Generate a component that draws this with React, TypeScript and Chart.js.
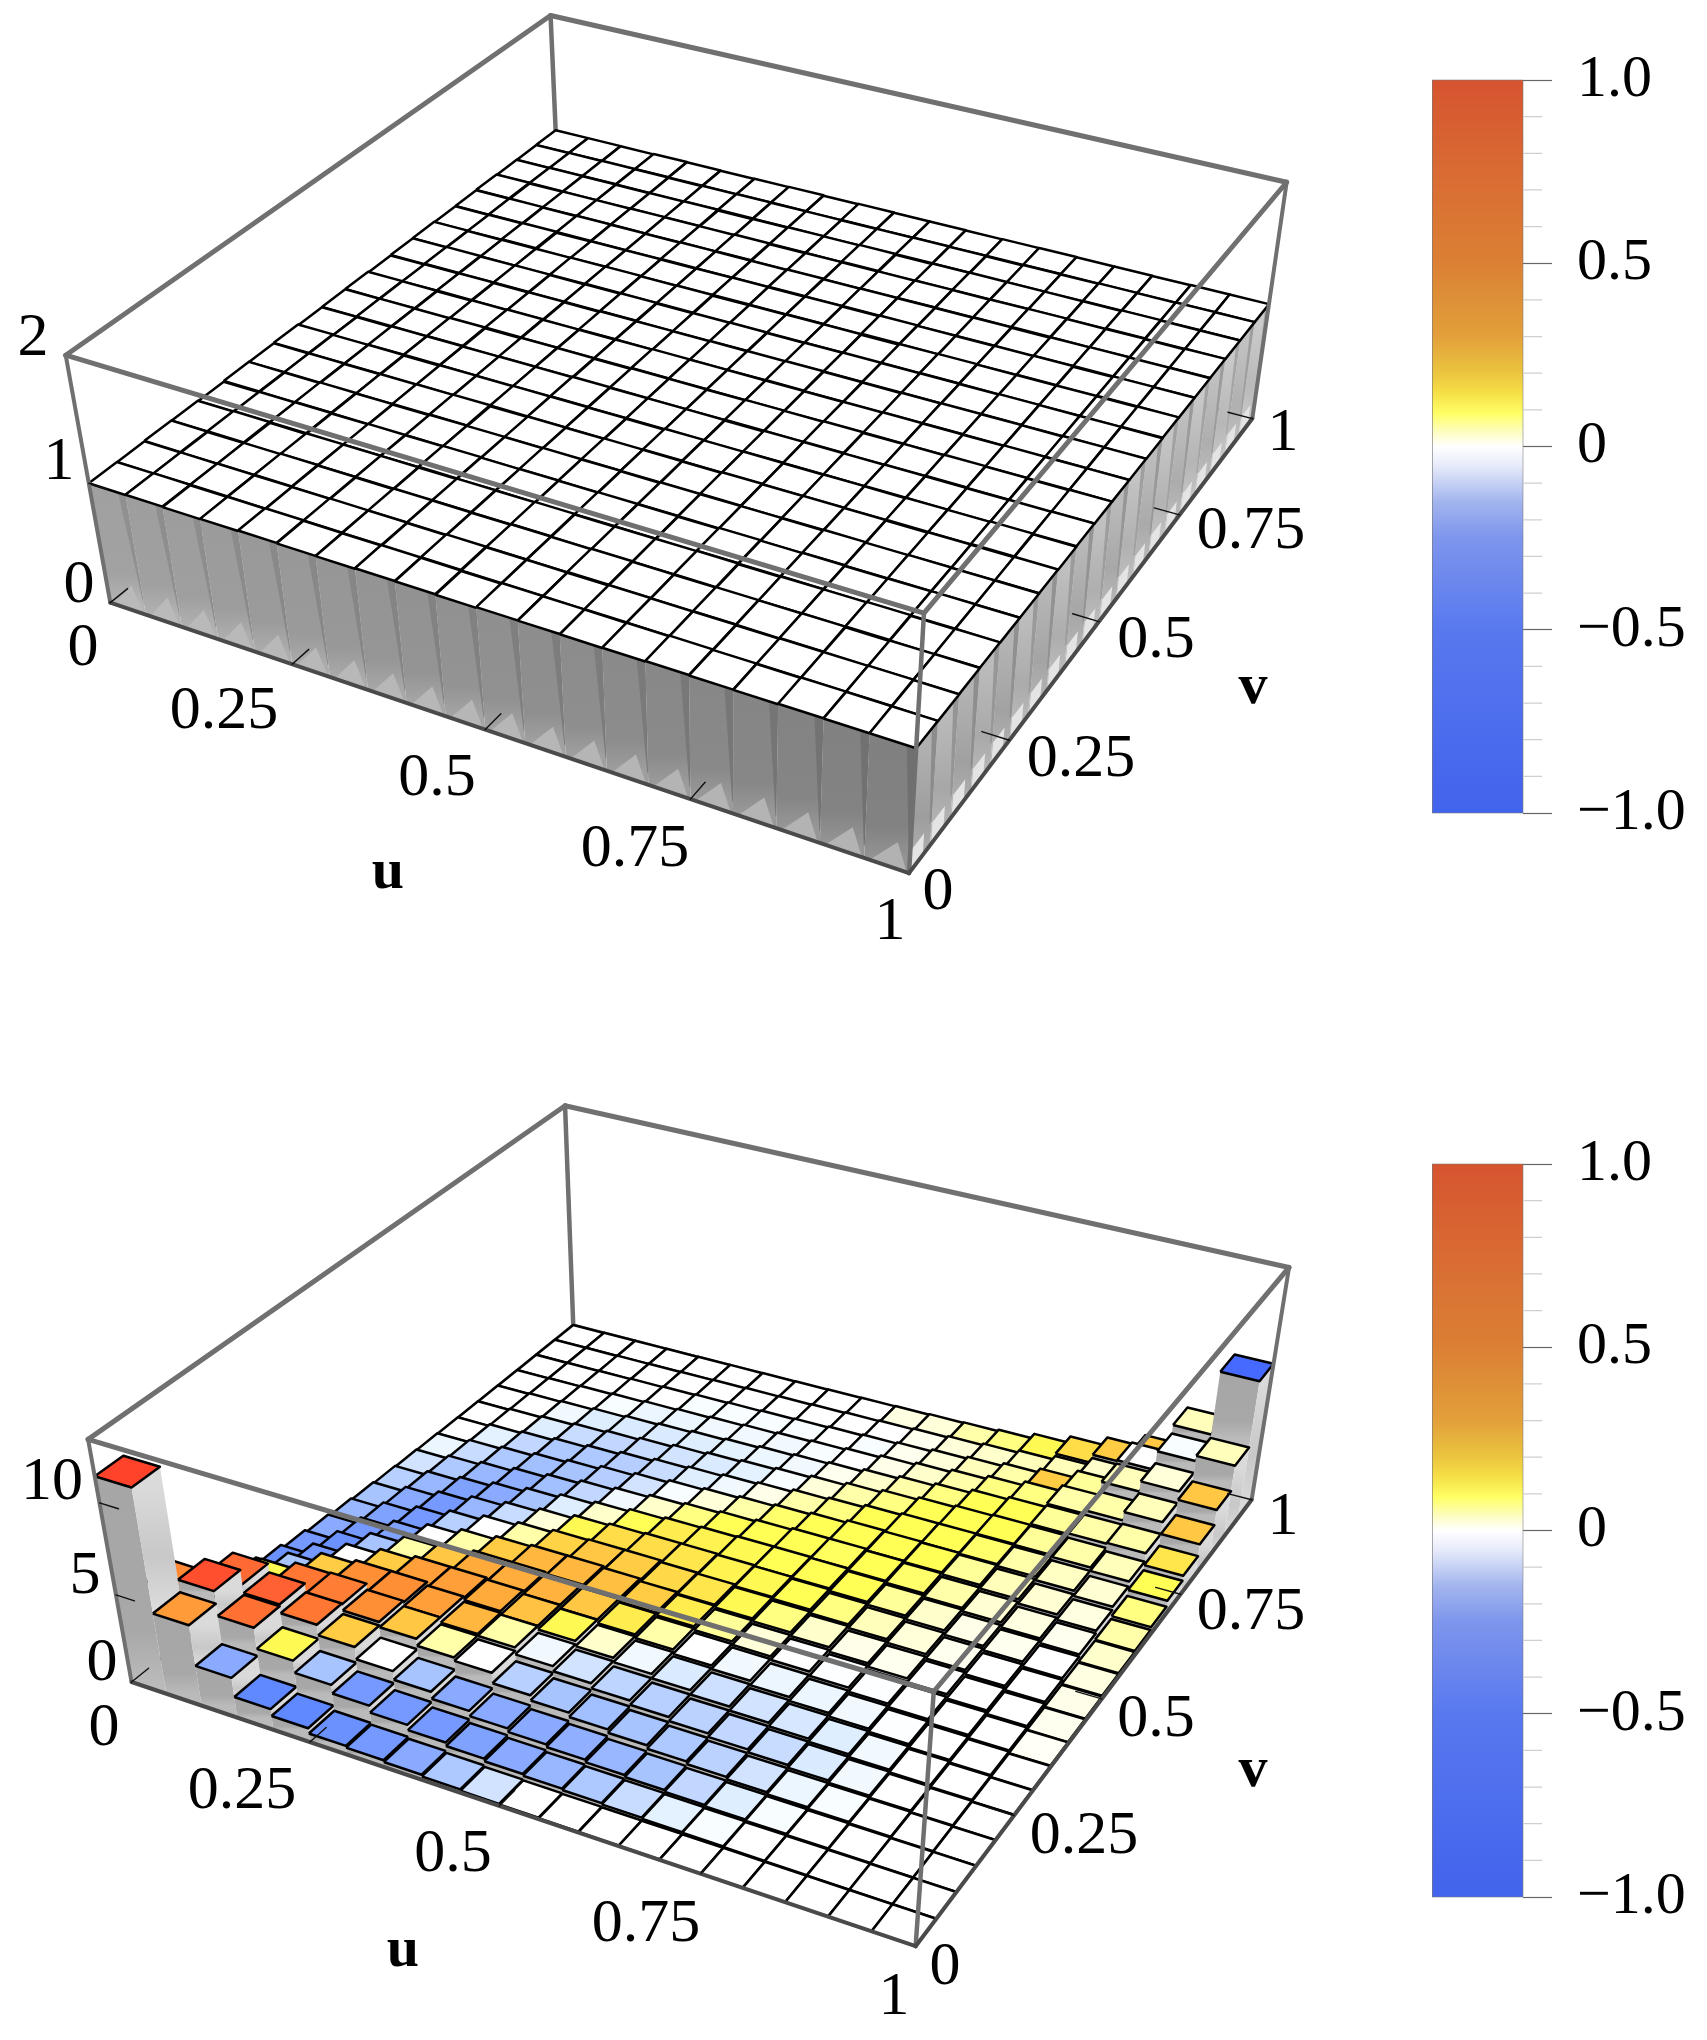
import React, { useEffect, useRef } from "react";
import { Chart, registerables } from "chart.js";

Chart.register(...registerables);

const CELL_COUNT = 20;

// Top panel: heights of the 20 x 20 bars, indexed [u][v]
const topHeights = [
  [1.000,0.998,1.002,1.000,0.996,1.002,1.000,1.004,0.998,1.000,1.002,0.996,1.000,1.002,0.998,1.000,1.004,1.000,0.998,1.000],
  [1.002,1.000,0.998,1.004,1.000,0.998,1.002,1.000,0.996,1.002,1.000,1.000,1.004,0.998,1.000,1.002,0.998,1.002,1.000,1.000],
  [0.998,1.002,1.000,0.996,1.002,1.004,0.998,1.000,1.002,1.000,0.996,1.002,1.000,1.000,1.004,0.998,1.000,1.000,1.002,0.998],
  [1.000,1.000,1.004,1.002,0.998,1.000,1.000,0.996,1.002,1.004,1.000,0.998,1.002,1.000,0.996,1.002,1.000,0.998,1.000,1.002],
  [1.004,0.998,1.000,1.000,1.002,0.996,1.002,1.000,1.000,0.998,1.004,1.000,0.998,1.002,1.000,1.000,1.002,1.000,0.996,1.000],
  [1.000,1.002,0.996,1.000,1.000,1.002,1.004,0.998,1.000,1.002,1.000,0.996,1.000,1.004,1.000,0.998,1.000,1.002,1.000,0.998],
  [0.998,1.000,1.002,0.998,1.004,1.000,0.996,1.002,1.000,1.000,0.998,1.002,1.004,1.000,0.998,1.002,1.000,0.996,1.002,1.000],
  [1.002,0.996,1.000,1.002,1.000,0.998,1.000,1.002,1.004,0.996,1.000,1.000,0.998,1.002,1.000,1.000,1.004,0.998,1.000,1.002],
  [1.000,1.004,0.998,1.000,1.000,1.002,0.998,1.000,1.000,1.002,1.004,0.998,1.000,0.996,1.002,1.000,0.998,1.002,1.000,0.998],
  [0.996,1.000,1.002,1.004,0.998,1.000,1.002,0.996,1.000,1.000,1.002,1.000,1.002,0.998,1.000,1.004,1.000,1.000,0.998,1.002],
  [1.002,1.000,1.000,0.998,1.002,0.996,1.000,1.004,1.000,0.998,1.000,1.002,0.996,1.000,1.002,1.000,0.998,1.004,1.000,1.000],
  [1.000,0.998,1.004,1.000,1.000,1.002,0.998,1.000,0.996,1.002,1.000,1.004,1.000,1.000,0.998,1.002,1.000,0.996,1.002,1.000],
  [0.998,1.002,1.000,1.000,0.996,1.000,1.004,1.000,1.002,1.000,0.998,1.000,1.002,0.996,1.004,1.000,1.002,1.000,1.000,0.998],
  [1.000,1.000,0.998,1.002,1.004,1.000,1.000,0.998,1.000,1.004,1.000,0.996,1.000,1.002,1.000,0.998,1.000,1.002,0.996,1.000],
  [1.004,1.000,1.002,0.996,1.000,0.998,1.002,1.000,1.000,0.998,1.002,1.000,1.000,1.004,0.998,1.000,1.002,1.000,1.000,1.002],
  [1.000,0.996,1.000,1.000,1.002,1.004,1.000,0.998,1.002,1.000,1.000,1.002,0.998,1.000,1.000,0.996,1.004,1.000,0.998,1.000],
  [0.998,1.000,1.002,1.000,0.998,1.000,0.996,1.002,1.000,1.004,0.998,1.000,1.002,1.000,1.002,1.000,1.000,0.998,1.002,1.000],
  [1.002,1.000,0.996,1.004,1.000,1.002,1.000,1.000,0.998,1.000,1.002,0.998,1.000,1.000,0.996,1.002,1.000,1.004,1.000,0.998],
  [1.000,1.002,1.000,0.998,1.002,1.000,0.998,1.004,1.000,0.996,1.000,1.002,1.000,0.998,1.002,1.000,0.996,1.000,1.002,1.000],
  [1.000,0.998,1.000,1.002,1.000,1.000,1.002,0.998,1.002,1.000,1.000,1.000,0.998,1.002,1.000,1.000,1.002,1.000,1.000,1.000],
];

// Bottom panel: heights of the bars, indexed [u][v]
const bottomHeights = [
  [11.4,4.6,3.0,1.9,1.3,0.9,0.65,0.48,0.35,0.25,0.18,0.13,0.09,0.06,0.04,0.03,0.02,0.01,0.01,0.0],
  [4.6,5.3,4.5,3.0,2.2,1.6,1.2,0.9,0.7,0.55,0.42,0.32,0.24,0.17,0.12,0.08,0.05,0.03,0.01,0.01],
  [2.3,3.9,4.0,3.4,2.8,2.2,1.7,1.3,1.05,0.85,0.65,0.5,0.38,0.28,0.2,0.14,0.09,0.05,0.03,0.01],
  [1.2,2.7,3.5,3.45,3.0,2.5,2.1,1.7,1.4,1.15,0.9,0.7,0.55,0.42,0.3,0.22,0.14,0.08,0.04,0.02],
  [0.8,2.0,2.9,3.1,3.0,2.7,2.3,2.0,1.7,1.4,1.15,0.9,0.7,0.55,0.4,0.3,0.2,0.12,0.06,0.03],
  [0.5,1.5,2.2,2.8,2.8,2.7,2.5,2.2,1.9,1.6,1.35,1.1,0.9,0.7,0.52,0.38,0.26,0.16,0.08,0.04],
  [0.4,1.1,1.7,2.4,2.5,2.6,2.5,2.3,2.05,1.8,1.5,1.25,1.05,0.85,0.65,0.47,0.32,0.2,0.11,0.05],
  [0.3,0.8,1.3,2.2,2.4,2.4,2.4,2.3,2.1,1.9,1.65,1.4,1.2,0.95,0.75,0.55,0.38,0.24,0.13,0.06],
  [0.2,0.6,1.0,1.6,2.0,2.2,2.2,2.2,2.1,1.95,1.75,1.5,1.3,1.05,0.85,0.65,0.45,0.28,0.16,0.08],
  [0.12,0.45,0.8,1.3,1.7,1.9,2.0,2.05,2.0,1.95,1.8,1.6,1.4,1.15,0.95,0.72,0.52,0.34,0.2,0.1],
  [0.08,0.35,0.65,1.05,1.4,1.65,1.8,1.9,1.95,1.9,1.85,1.7,1.5,1.3,1.05,0.8,0.6,0.4,0.24,0.12],
  [0.05,0.27,0.5,0.85,1.15,1.4,1.55,1.7,1.8,1.85,1.85,1.8,1.6,1.4,1.2,0.95,0.72,0.48,0.3,0.16],
  [0.03,0.2,0.38,0.65,0.92,1.15,1.35,1.5,1.65,1.75,1.8,1.8,1.75,1.55,1.35,1.1,0.85,0.6,0.38,0.2],
  [0.02,0.14,0.28,0.5,0.72,0.92,1.1,1.3,1.45,1.55,1.65,1.7,1.7,1.65,1.5,1.25,1.0,0.72,0.48,0.3],
  [0.01,0.1,0.2,0.36,0.55,0.72,0.88,1.05,1.2,1.35,1.5,1.6,1.65,1.65,1.6,1.45,1.2,0.9,0.62,0.6],
  [0.01,0.06,0.14,0.25,0.4,0.54,0.68,0.82,1.0,1.15,1.3,1.4,1.55,1.6,1.65,1.6,1.45,1.15,0.85,1.0],
  [0.0,0.04,0.09,0.17,0.27,0.38,0.5,0.62,0.77,0.9,1.05,1.2,1.35,1.5,1.6,1.7,1.8,1.6,1.3,1.5],
  [0.0,0.02,0.05,0.1,0.16,0.24,0.32,0.42,0.52,0.65,0.8,0.92,1.1,1.3,1.5,1.75,2.0,2.6,2.8,2.2],
  [0.0,0.01,0.02,0.05,0.08,0.13,0.18,0.24,0.32,0.42,0.52,0.65,0.8,1.0,1.3,1.8,2.5,3.2,3.9,4.4],
  [0.0,0.0,0.01,0.02,0.03,0.05,0.07,0.09,0.11,0.14,0.18,0.22,0.28,0.45,0.8,1.1,1.8,2.7,4.2,8.0],
];

// Bottom panel: colour value of each bar's top, indexed [u][v]
const bottomColours = [
  [0.95,0.5,-0.35,-0.5,-0.5,-0.45,-0.4,-0.3,-0.25,-0.2,-0.15,-0.08,-0.03,0,0,0,0,0,0,0],
  [0.4,0.9,0.75,0.1,-0.2,-0.4,-0.45,-0.4,-0.35,-0.3,-0.25,-0.18,-0.1,-0.04,0,0,0,0,0,0],
  [-0.3,0.7,0.8,0.65,0.2,0,-0.2,-0.35,-0.4,-0.4,-0.35,-0.25,-0.18,-0.12,-0.05,-0.02,0,0,0,0],
  [-0.5,0.1,0.65,0.6,0.45,0.2,0.05,0,-0.15,-0.25,-0.3,-0.28,-0.22,-0.18,-0.1,-0.05,-0.01,0,0,0],
  [-0.5,-0.2,0.2,0.45,0.45,0.38,0.22,0.05,0,-0.1,-0.2,-0.22,-0.2,-0.18,-0.12,-0.06,-0.03,0,0,0],
  [-0.45,-0.4,0,0.22,0.38,0.38,0.33,0.2,0.05,0.02,-0.05,-0.12,-0.16,-0.16,-0.1,-0.06,-0.03,-0.01,0,0],
  [-0.4,-0.4,-0.2,0.05,0.28,0.33,0.32,0.28,0.18,0.1,0.03,-0.02,-0.08,-0.1,-0.08,-0.05,-0.02,-0.01,0,0],
  [-0.3,-0.4,-0.3,0,0.05,0.24,0.3,0.28,0.22,0.15,0.09,0.03,-0.01,-0.05,-0.06,-0.04,-0.02,-0.01,0,0],
  [-0.18,-0.35,-0.3,-0.15,-0.02,0.1,0.22,0.25,0.2,0.15,0.12,0.07,0.02,-0.02,-0.04,-0.03,-0.02,-0.01,0,0],
  [-0.08,-0.3,-0.3,-0.2,-0.08,0.03,0.12,0.2,0.16,0.13,0.11,0.09,0.05,0.01,-0.01,-0.02,-0.01,0,0,0],
  [0,-0.25,-0.28,-0.22,-0.13,-0.02,0.05,0.12,0.13,0.11,0.1,0.09,0.08,0.05,0.02,0.005,0,-0.01,0,0.015],
  [0,-0.18,-0.25,-0.2,-0.15,-0.06,0,0.06,0.1,0.1,0.09,0.09,0.09,0.07,0.05,0.03,0.01,0.005,0.005,0.02],
  [0,-0.1,-0.2,-0.18,-0.14,-0.09,-0.02,0.02,0.07,0.09,0.09,0.085,0.09,0.09,0.07,0.05,0.03,0.02,0.02,0.05],
  [0,-0.04,-0.12,-0.14,-0.12,-0.08,-0.03,0,0.03,0.07,0.09,0.09,0.09,0.09,0.09,0.07,0.05,0.04,0.03,0.07],
  [0,-0.01,-0.05,-0.08,-0.1,-0.07,-0.03,-0.005,0.01,0.04,0.06,0.08,0.09,0.09,0.09,0.09,0.07,0.05,0.04,0.1],
  [0,0,-0.01,-0.03,-0.06,-0.05,-0.02,-0.005,0.005,0.02,0.03,0.05,0.06,0.08,0.09,0.09,0.07,0.2,0.04,0.15],
  [0,0,0,-0.01,-0.02,-0.02,-0.005,0,0,0.005,0.01,0.025,0.04,0.05,0.06,0.06,0.05,0.06,0.03,0.2],
  [0,0,0,0,0,0,0,0,0,0,0.005,0.015,0.025,0.035,0.05,0.05,0.05,0.04,0,0.22],
  [0,0,0,0,0,0,0,0,0,0,0,0.005,0.015,0.025,0.04,0.05,0.04,0.02,-0.01,0.04],
  [0,0,0,0,0,0,0,0.003,0.005,0.01,0.015,0.03,0.05,0.07,0.09,0.13,0.22,0.22,0.04,-0.9],
];

const uvTickValues = [0.25, 0.5, 0.75];
const topZTicks = [1];
const bottomZTicks = [5, 10];
const colourMinorTicks = [0.9, 0.8, 0.7, 0.6, 0.4, 0.3, 0.2, 0.1, -0.1, -0.2, -0.3, -0.4, -0.6, -0.7, -0.8, -0.9];
const colourTickLabels: Record<string, string> = { "1": "1.0", "0.5": "0.5", "0": "0", "-0.5": "\u22120.5", "-1": "\u22121.0" };

// Colours of the bar tops (lit version of the scale)
const topColourStops: [number, string][] = [
  [-1, "#3f63ff"], [-0.5, "#6088ff"], [-0.3, "#8aaaff"], [-0.2, "#a8c4ff"], [-0.1, "#c8dcff"],
  [-0.04, "#e4f2ff"], [-0.01, "#f8fdff"], [0, "#ffffff"], [0.005, "#fffff0"], [0.03, "#ffffcc"],
  [0.06, "#ffff99"], [0.09, "#ffff55"], [0.14, "#ffe04a"], [0.2, "#ffcc44"], [0.3, "#ffb23e"],
  [0.45, "#ff8f35"], [0.65, "#ff7733"], [0.85, "#ff5a32"], [1, "#ff3828"],
];
// Colours of the colour bar
const barColourStops: [number, string][] = [
  [1, "#d65430"], [0.75, "#d96b33"], [0.5, "#db8034"], [0.3, "#e2a03a"], [0.2, "#ebc53f"], [0.15, "#f5dd45"],
  [0.09, "#ffff66"], [0.04, "#fdfdc0"], [0, "#ffffff"], [-0.05, "#e8ecfa"], [-0.15, "#a3b5ee"],
  [-0.25, "#7d95ec"], [-0.5, "#5878ef"], [-1, "#4263ec"],
];

type Corner = [number, number, number, number, number];
type TextItem = { text: string; x: number; y: number; bold?: boolean };

const topPanel = {
  top: 0, height: 1020, width: 1430, zMax: 2,
  corners: [
    [0, 1, 1, 550, 16], [0, 0, 1, 66, 355], [1, 1, 1, 1287, 182], [1, 0, 1, 924, 613],
    [0, 0, 0, 110, 603], [1, 0, 0, 909, 873], [1, 1, 0, 1252, 419], [0, 1, 0, 561, 238],
  ] as Corner[],
  zTicks: topZTicks,
  texts: [
    { text: "2", x: 33, y: 339 }, { text: "1", x: 59, y: 463 }, { text: "0", x: 79, y: 586 },
    { text: "0", x: 83, y: 649 }, { text: "0.25", x: 224, y: 712 }, { text: "0.5", x: 437, y: 779 },
    { text: "0.75", x: 635, y: 850 }, { text: "1", x: 890, y: 923 }, { text: "0", x: 938, y: 893 },
    { text: "0.25", x: 1081, y: 760 }, { text: "0.5", x: 1156, y: 641 }, { text: "0.75", x: 1251, y: 532 },
    { text: "1", x: 1283, y: 434 }, { text: "u", x: 388, y: 873, bold: true }, { text: "v", x: 1253, y: 688, bold: true },
  ] as TextItem[],
};
const bottomPanel = {
  top: 1020, height: 1020, width: 1430, zMax: 13.3,
  corners: [
    [0, 1, 1, 565, 1106], [0, 0, 1, 88, 1438], [1, 1, 1, 1289, 1268], [1, 0, 1, 934, 1692],
    [0, 0, 0, 132, 1683], [1, 0, 0, 915, 1946], [1, 1, 0, 1252, 1499], [0, 1, 0, 573, 1325],
  ] as Corner[],
  zTicks: bottomZTicks,
  texts: [
    { text: "10", x: 52, y: 1483 }, { text: "5", x: 85, y: 1577 }, { text: "0", x: 102, y: 1664 },
    { text: "0", x: 104, y: 1729 }, { text: "0.25", x: 242, y: 1792 }, { text: "0.5", x: 453, y: 1855 },
    { text: "0.75", x: 646, y: 1925 }, { text: "1", x: 894, y: 1998 }, { text: "0", x: 945, y: 1968 },
    { text: "0.25", x: 1084, y: 1837 }, { text: "0.5", x: 1156, y: 1720 }, { text: "0.75", x: 1251, y: 1613 },
    { text: "1", x: 1283, y: 1518 }, { text: "u", x: 403, y: 1951, bold: true }, { text: "v", x: 1253, y: 1771, bold: true },
  ] as TextItem[],
};

// Least-squares fit of a 3D to 2D perspective projection through the frame's eight corners
function fitProjection(corners: Corner[]) {
  const n = 11;
  const A: number[][] = Array.from({ length: n }, () => new Array(n + 1).fill(0));
  const add = (row: number[], b: number) => {
    for (let r = 0; r < n; r++) {
      for (let c = 0; c < n; c++) A[r][c] += row[r] * row[c];
      A[r][n] += row[r] * b;
    }
  };
  for (const [X, Y, Z, px, py] of corners) {
    const x = px / 1000, y = py / 1000;
    add([X, Y, Z, 1, 0, 0, 0, 0, -x * X, -x * Y, -x * Z], x);
    add([0, 0, 0, 0, X, Y, Z, 1, -y * X, -y * Y, -y * Z], y);
  }
  for (let c = 0; c < n; c++) {
    let p = c;
    for (let r = c + 1; r < n; r++) if (Math.abs(A[r][c]) > Math.abs(A[p][c])) p = r;
    [A[c], A[p]] = [A[p], A[c]];
    for (let r = 0; r < n; r++) {
      if (r === c) continue;
      const f = A[r][c] / A[c][c];
      for (let k = c; k <= n; k++) A[r][k] -= f * A[c][k];
    }
  }
  const m = A.map((row, i) => row[n] / row[i]);
  return (u: number, v: number, w: number) => {
    const d = m[8] * u + m[9] * v + m[10] * w + 1;
    return {
      x: (1000 * (m[0] * u + m[1] * v + m[2] * w + m[3])) / d,
      y: (1000 * (m[4] * u + m[5] * v + m[6] * w + m[7])) / d,
    };
  };
}

function hexToRgb(h: string) {
  return [1, 3, 5].map((k) => parseInt(h.slice(k, k + 2), 16));
}
function colourOf(value: number) {
  const s = topColourStops;
  for (let k = 1; k < s.length; k++) {
    if (value <= s[k][0]) {
      const t = (value - s[k - 1][0]) / (s[k][0] - s[k - 1][0]);
      const a = hexToRgb(s[k - 1][1]), b = hexToRgb(s[k][1]);
      const c = a.map((q, i) => Math.round(q + (b[i] - q) * t));
      return `rgb(${c[0]},${c[1]},${c[2]})`;
    }
  }
  return s[s.length - 1][1];
}
const grey = (g: number) => { const r = Math.round(g); return `rgb(${r},${r},${r})`; };

function buildPanelDatasets(
  ctx: CanvasRenderingContext2D,
  panel: typeof topPanel,
  heights: number[][],
  colours: number[][] | null,
  flatBlock: boolean,
) {
  const project = fitProjection(panel.corners);
  const Z = (h: number) => h / panel.zMax;
  const step = 1 / CELL_COUNT;
  const list: any[] = [];
  const shape = (pts: number[][], fill: any, stroke = "rgba(0,0,0,0)", width = 0) =>
    list.push({
      data: [...pts, pts[0]].map(([u, v, w]) => project(u, v, w)),
      fill: "shape", backgroundColor: fill, borderColor: stroke, borderWidth: width,
      pointRadius: 0, tension: 0, clip: false, borderJoinStyle: "round",
    });
  const edge = (a: number[], b: number[], color: string, width: number) =>
    list.push({
      data: [project(a[0], a[1], a[2]), project(b[0], b[1], b[2])],
      fill: false, borderColor: color, borderWidth: width, pointRadius: 0, tension: 0, clip: false, borderCapStyle: "round",
    });
  const vGradient = (a: { y: number }, b: { y: number }, stops: [number, string][]) => {
    const g = ctx.createLinearGradient(0, a.y, 0, b.y);
    stops.forEach(([o, c]) => g.addColorStop(o, c));
    return g;
  };

  const FRAME = "#707070";
  // rear frame edges, drawn before the bars
  edge([0, 1, 1], [0, 1, 0], FRAME, 4.5);
  edge([0, 0, 0], [0, 1, 0], FRAME, 3);
  edge([0, 1, 0], [1, 1, 0], FRAME, 3);

  for (let i = 0; i < CELL_COUNT; i++) {
    for (let j = CELL_COUNT - 1; j >= 0; j--) {
      const h = heights[i][j];
      const u0 = i * step, u1 = (i + 1) * step, v0 = j * step, v1 = (j + 1) * step;
      const w = Z(h);
      // face towards v = 0
      const lowV = j > 0 ? Z(heights[i][j - 1]) : 0;
      if (w > lowV) {
        const base = flatBlock ? 166 - i * 1.7 : 172;
        shape(
          [[u0, v0, lowV], [u1, v0, lowV], [u1, v0, w], [u0, v0, w]],
          vGradient(project(u0, v0, w), project(u0, v0, lowV), [[0, grey(base - 6)], [0.75, grey(base - 4)], [1, grey(base + 14)]]),
        );
        if (j === 0 && flatBlock) {
          shape([[u1 - step * 0.2, v0, w], [u1, v0, w], [u1, v0, 0.05], [u1 - step * 0.02, v0, 0.05]], grey(base - 22));
          shape([[u0 + step * 0.12, v0, 0], [u0 + step * 0.72, v0, 0.11], [u0 + step * 0.95, v0, 0]], grey(186 - i * 0.4));
        }
      }
      // face towards u = 1
      const lowU = i < CELL_COUNT - 1 ? Z(heights[i + 1][j]) : 0;
      if (w > lowU) {
        const shade = flatBlock ? 158 + (j % 2) * 8 + j * 1.0 : 200;
        shape(
          [[u1, v0, lowU], [u1, v1, lowU], [u1, v1, w], [u1, v0, w]],
          vGradient(project(u1, v0, w), project(u1, v0, lowU), [[0, grey(shade + 18)], [0.55, grey(shade)], [1, grey(shade + 22)]]),
        );
        if (i === CELL_COUNT - 1 && flatBlock) {
          shape([[u1, v1 - step * 0.28, w], [u1, v1, w], [u1, v1, 0.1], [u1, v1 - step * 0.1, 0.1]], grey(shade - 18));
          shape([[u1, v0 + step * 0.05, 0], [u1, v0 + step * 0.65, 0], [u1, v0 + step * 0.65, 0.09], [u1, v0 + step * 0.05, 0.09]], grey(228));
        }
      }
      // top
      shape(
        [[u0, v0, w], [u1, v0, w], [u1, v1, w], [u0, v1, w]],
        colours ? colourOf(colours[i][j]) : "#ffffff",
        "#000000",
        2.5,
      );
    }
  }

  // front frame edges and the axis ticks, over the bars
  edge([0, 0, 1], [0, 1, 1], FRAME, 5);
  edge([0, 1, 1], [1, 1, 1], FRAME, 5);
  edge([0, 0, 1], [1, 0, 1], FRAME, 5);
  edge([1, 0, 1], [1, 1, 1], FRAME, 5);
  edge([1, 0, 1], [1, 0, 0], FRAME, 4.5);
  edge([0, 0, 1], [0, 0, 0], FRAME, 4);
  edge([1, 1, 1], [1, 1, 0], FRAME, 4);
  edge([0, 0, 0], [1, 0, 0], "#4a4a4a", 4);
  edge([1, 0, 0], [1, 1, 0], "#4a4a4a", 4);
  const tick = 0.032;
  uvTickValues.forEach((t) => {
    edge([t, 0, 0], [t, tick, 0], "#111111", 1.4);
    edge([1, t, 0], [1 - tick, t, 0], "#111111", 1.4);
  });
  edge([0, 0, 0], [0, tick, 0], "#111111", 1.4);
  edge([1, 1, 0], [1 - tick, 1, 0], "#111111", 1.4);
  panel.zTicks.forEach((z) => edge([0, 0, Z(z)], [0.026, 0, Z(z)], "#111111", 1.4));

  return list.reverse();
}

function Panel({ panel, heights, colours, flatBlock }: { panel: typeof topPanel; heights: number[][]; colours: number[][] | null; flatBlock: boolean }) {
  const ref = useRef<HTMLCanvasElement | null>(null);
  useEffect(() => {
    const canvas = ref.current!;
    const ctx = canvas.getContext("2d")!;
    // the gradients work in canvas pixels, so shift the panel's page y to canvas y
    const shifted = { ...panel, corners: panel.corners.map((c) => [c[0], c[1], c[2], c[3], c[4] - panel.top] as Corner) };
    const chart = new Chart(canvas, {
      type: "line",
      data: { datasets: buildPanelDatasets(ctx, shifted, heights, colours, flatBlock) },
      options: {
        responsive: false, animation: false, devicePixelRatio: 1, events: [],
        layout: { padding: 0 },
        plugins: { legend: { display: false }, tooltip: { enabled: false } },
        scales: {
          x: { type: "linear", min: 0, max: panel.width, display: false },
          y: { type: "linear", min: 0, max: panel.height, reverse: true, display: false },
        },
      },
      plugins: [
        {
          id: "axisText",
          afterDatasetsDraw(c: any) {
            const g = c.ctx;
            g.save();
            g.fillStyle = "#000";
            g.textAlign = "center";
            g.textBaseline = "middle";
            panel.texts.forEach((t) => {
              g.font = `${t.bold ? "bold 58px" : "62px"} "Liberation Serif"`;
              g.fillText(t.text, c.scales.x.getPixelForValue(t.x), c.scales.y.getPixelForValue(t.y - panel.top));
            });
            g.restore();
          },
        },
      ],
    });
    return () => chart.destroy();
  }, []);
  return <canvas ref={ref} width={panel.width} height={panel.height} style={{ position: "absolute", left: 0, top: panel.top, display: "block" }} />;
}

function ColourBar({ top }: { top: number }) {
  const ref = useRef<HTMLCanvasElement | null>(null);
  useEffect(() => {
    const minorPts: { x: number; y: number }[] = [];
    colourMinorTicks.forEach((t) => minorPts.push({ x: 1, y: t }, { x: 1.21, y: t }, { x: NaN, y: NaN }));
    const chart = new Chart(ref.current!, {
      type: "line",
      data: {
        datasets: [
          {
            data: minorPts, borderColor: "#cfcfcf", borderWidth: 1.2, pointRadius: 0, fill: false, clip: false, spanGaps: false,
          },
          {
            data: [{ x: 0, y: -1 }, { x: 1, y: -1 }, { x: 1, y: 1 }, { x: 0, y: 1 }, { x: 0, y: -1 }],
            fill: "shape", borderWidth: 1, borderColor: "rgba(120,120,120,0.55)", pointRadius: 0, tension: 0, clip: false,
            backgroundColor: (c: any) => {
              const a = c.chart.chartArea;
              if (!a) return "#888";
              const g = c.chart.ctx.createLinearGradient(0, a.top, 0, a.bottom);
              barColourStops.forEach(([v, col]) => g.addColorStop((1 - v) / 2, col));
              return g;
            },
          },
        ] as any,
      },
      options: {
        responsive: false, animation: false, devicePixelRatio: 1, events: [],
        layout: { padding: { top: 65, bottom: 69, left: 0, right: 0 } },
        plugins: { legend: { display: false }, tooltip: { enabled: false } },
        scales: {
          x: { type: "linear", min: 0, max: 1, display: false },
          y: {
            type: "linear", position: "right", min: -1, max: 1,
            afterFit: (s: any) => { s.width = 185; },
            border: { display: false },
            grid: { drawOnChartArea: false, tickLength: 29, tickColor: "#666666", tickWidth: 1.2 },
            ticks: {
              stepSize: 0.5, autoSkip: false, padding: 25, color: "#000", maxRotation: 0,
              font: { family: "Liberation Serif", size: 60 },
              callback: (v: any) => colourTickLabels[String(v)] ?? "",
            },
          },
        },
      },
    });
    return () => chart.destroy();
  }, []);
  return <canvas ref={ref} width={276} height={867} style={{ position: "absolute", left: 1432, top, display: "block" }} />;
}

export default function App() {
  useEffect(() => {
    document.body.style.margin = "0";
    document.body.style.background = "#fff";
  }, []);
  return (
    <div style={{ position: "relative", width: 1707, height: 2040, overflow: "hidden", background: "#fff" }}>
      <Panel panel={topPanel} heights={topHeights} colours={null} flatBlock={true} />
      <Panel panel={bottomPanel} heights={bottomHeights} colours={bottomColours} flatBlock={false} />
      <ColourBar top={15} />
      <ColourBar top={1099} />
    </div>
  );
}
